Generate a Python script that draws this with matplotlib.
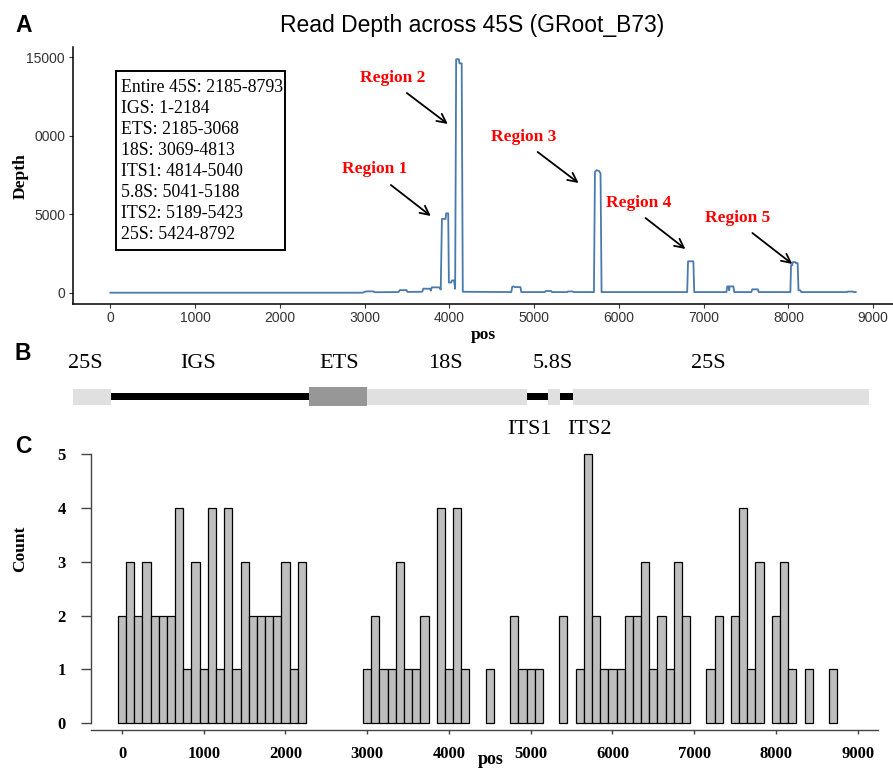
import matplotlib
matplotlib.use("Agg")
import matplotlib.pyplot as plt
from matplotlib.patches import Rectangle

# ---------------- data ----------------
# Panel A: read depth profile (pos, depth)
depth_pos = [1, 2980, 3000, 3030, 3100, 3120, 3400, 3415, 3495, 3505,
             3680, 3692, 3770, 3782, 3792, 3880, 3898, 3912, 3955, 3962,
             3986, 3994, 4020, 4030, 4055, 4068, 4080, 4112, 4118, 4145,
             4158, 4730, 4742, 4760, 4770, 4838, 4848, 5125, 5135, 5200,
             5210, 5390, 5400, 5455, 5465, 5705, 5717, 5735, 5765, 5783,
             5795, 6805, 6815, 6878, 6888, 7268, 7278, 7295, 7300, 7305,
             7350, 7360, 7562, 7572, 7638, 7648, 8022, 8030, 8045, 8052,
             8082, 8090, 8108, 8118, 8140, 8150, 8690, 8700, 8760, 8770,
             8793]
depth_val = [0, 0, 60, 85, 85, 30, 40, 165, 165, 50,
             60, 255, 255, 130, 340, 340, 200, 4700, 4700, 5060,
             5060, 650, 650, 780, 780, 250, 14880, 14880, 14620, 14620,
             60, 40, 380, 400, 360, 360, 40, 40, 110, 110,
             40, 40, 80, 80, 40, 40, 7700, 7810, 7760, 7600,
             40, 40, 2000, 2000, 40, 40, 400, 400, 150, 400,
             400, 40, 40, 215, 215, 40, 40, 1760, 1760, 1950,
             1950, 1880, 1880, 150, 150, 40, 40, 70, 70, 40,
             40]

info_lines = ["Entire 45S: 2185-8793", "IGS: 1-2184", "ETS: 2185-3068",
              "18S: 3069-4813", "ITS1: 4814-5040", "5.8S: 5041-5188",
              "ITS2: 5189-5423", "25S: 5424-8792"]

region_names = ["Region 1", "Region 2", "Region 3", "Region 4", "Region 5"]
region_text_pos = [3121, 3333, 4876, 6231, 7397]
region_text_depth = [7885, 13685, 9925, 5720, 4762]
arrow_tail_pos = [3310, 3498, 5041, 6313, 7574]
arrow_tail_depth = [6865, 12730, 8970, 4762, 3806]
arrow_head_pos = [3781, 3981, 5524, 6784, 8045]
arrow_head_depth = [4889, 10754, 6993, 2786, 1830]

depth_ticks = [0, 5000, 10000, 15000]
depth_ticklabels = ["0", "5000", "0000", "15000"]
pos_ticks = [0, 1000, 2000, 3000, 4000, 5000, 6000, 7000, 8000, 9000]

# Panel B: gene structure segments (in pos units as drawn)
seg_names = ["25S", "IGS", "ETS", "18S", "ITS1", "5.8S", "ITS2", "25S"]
seg_start = [-480, 5, 2348, 3033, 4913, 5168, 5306, 5456]
seg_end = [5, 2348, 3033, 4913, 5168, 5306, 5456, 8955]
seg_kind = ["rrna", "spacer", "ets", "rrna", "spacer", "rrna", "spacer", "rrna"]
label_names = ["25S", "IGS", "ETS", "18S", "5.8S", "25S", "ITS1", "ITS2"]
label_pos = [-298, 1034, 2704, 3948, 5225, 7057, 4950, 5658]
label_row = ["top", "top", "top", "top", "top", "top", "bottom", "bottom"]

# Panel C: histogram (bin centre, count)
bin_centers = [0, 100, 200, 300, 400, 500, 600, 700, 800, 900, 1000, 1100,
               1200, 1300, 1400, 1500, 1600, 1700, 1800, 1900, 2000, 2100,
               2200,
               3000, 3100, 3200, 3300, 3400, 3500, 3600, 3700, 3900, 4000,
               4100, 4200, 4500, 4800, 4900, 5000, 5100, 5400, 5600, 5700,
               5800, 5900, 6000, 6100, 6200, 6300, 6400, 6500, 6600, 6700,
               6800, 6900, 7200, 7300, 7500, 7600, 7700, 7800, 8000, 8100,
               8200, 8400, 8700]
bin_counts = [2, 3, 2, 3, 2, 2, 2, 4, 1, 3, 1, 4,
              1, 4, 1, 3, 2, 2, 2, 2, 3, 1,
              3,
              1, 2, 1, 1, 3, 1, 1, 2, 4, 1,
              4, 1, 1, 2, 1, 1, 1, 2, 1, 5,
              2, 1, 1, 1, 2, 2, 3, 1, 2, 1,
              3, 2, 1, 2, 2, 4, 1, 3, 2, 3,
              1, 1, 1]
bin_width = 100
count_ticks = [0, 1, 2, 3, 4, 5]

# ---------------- figure ----------------
W, H = 893, 769
fig = plt.figure(figsize=(W / 100, H / 100), dpi=100)
SERIF = "Liberation Serif"
SANS = "Liberation Sans"


def fx(x):
    return x / W


def fy(y):
    return 1 - y / H


# ---------- Panel A ----------
axA = fig.add_axes([fx(73), fy(304), (893 - 73) / W, (304 - 47) / H])
axA.plot(depth_pos, depth_val, color="#4a7aab", lw=1.3)
axA.set_xlim(-439.65, 9232.65)
axA.set_ylim(-720, 15662)
for s in ["top", "right"]:
    axA.spines[s].set_visible(False)
for s in ["left", "bottom"]:
    axA.spines[s].set_linewidth(1.1)
    axA.spines[s].set_color("black")
axA.set_xticks(pos_ticks)
axA.set_yticks(depth_ticks)
axA.set_yticklabels(depth_ticklabels)
axA.tick_params(axis="both", length=3.2, width=0.8, color="#333333",
                labelcolor="#333333", labelsize=10)
axA.tick_params(axis="x", pad=2.0)
axA.tick_params(axis="y", pad=2.5)
for lab in axA.get_xticklabels() + axA.get_yticklabels():
    lab.set_fontfamily(SANS)
axA.set_xlabel("pos", fontfamily=SERIF, fontweight="bold", fontsize=12.5,
               labelpad=1)
fig.text(fx(21), fy(176), "Depth", fontfamily=SERIF, fontweight="bold",
         fontsize=12.5, ha="center", va="center", rotation=90)

for name, tx, ty, ax0, ay0, hx, hy in zip(region_names, region_text_pos,
                                          region_text_depth, arrow_tail_pos,
                                          arrow_tail_depth, arrow_head_pos,
                                          arrow_head_depth):
    axA.text(tx, ty, name, color="red", fontfamily=SERIF, fontweight="bold",
             fontsize=12.5, ha="center", va="center")
    axA.annotate("", xy=(hx, hy), xytext=(ax0, ay0),
                 arrowprops=dict(arrowstyle="->", color="black", lw=1.3,
                                 mutation_scale=16, shrinkA=0, shrinkB=0))

# info box
fig.add_artist(Rectangle((fx(115.7), fy(250)), (285 - 115.7) / W,
                         (250 - 70.7) / H, transform=fig.transFigure,
                         facecolor="white", edgecolor="black", lw=1.4))
for i, line in enumerate(info_lines):
    fig.text(fx(121.5), fy(87.5 + 21 * i), line, fontfamily=SERIF,
             fontsize=12.8, ha="left", va="center")

fig.text(fx(472), fy(31.7), "Read Depth across 45S (GRoot_B73)",
         fontfamily=SANS, fontsize=16.5, ha="center", va="baseline")

# panel letters
for letter, yb in [("A", 31.7), ("B", 360), ("C", 453.3)]:
    fig.text(fx(15), fy(yb), letter, fontfamily=SANS, fontweight="bold",
             fontsize=16.5, ha="left", va="baseline")

# ---------- Panel B ----------
axB = fig.add_axes([fx(73), fy(450), (893 - 73) / W, 110 / H])
axB.set_xlim(-439.65, 9232.65)
axB.set_ylim(450, 340)
axB.axis("off")
kind_style = {"rrna": ("#e0e0e0", 389.0, 405.0),
              "ets": ("#979797", 386.7, 405.7),
              "spacer": ("black", 393.3, 400.0)}
for k, a, b in zip(seg_kind, seg_start, seg_end):
    col, y0, y1 = kind_style[k]
    axB.add_patch(Rectangle((a, y0), b - a, y1 - y0, facecolor=col,
                            edgecolor="none", zorder=2 if k != "spacer" else 1))
for name, p, row in zip(label_names, label_pos, label_row):
    yy = 364 if row == "top" else 429
    axB.text(p, yy, name, fontfamily=SERIF, fontsize=16, ha="center",
             va="center")

# ---------- Panel C ----------
axC = fig.add_axes([fx(90.7), fy(723.3), (877.7 - 90.7) / W,
                    (723.3 - 454) / H])
axC.bar(bin_centers, bin_counts, width=bin_width, color="#bebebe",
        edgecolor="black", linewidth=0.9, clip_on=False)
axC.set_xlim(-383, 9245)
axC.set_ylim(0, 5)
for s in ["top", "right"]:
    axC.spines[s].set_visible(False)
axC.spines["left"].set_bounds(0, 5)
axC.spines["left"].set_color("#444444")
axC.spines["left"].set_linewidth(1.0)
axC.spines["bottom"].set_position(("outward", 5))
axC.spines["bottom"].set_color("#444444")
axC.spines["bottom"].set_linewidth(1.0)
axC.set_xticks(pos_ticks)
axC.set_yticks(count_ticks)
axC.tick_params(axis="y", length=7, width=1.0, color="#444444", pad=11)
axC.tick_params(axis="x", length=3, width=1.0, color="#444444", pad=8)
for lab in axC.get_xticklabels() + axC.get_yticklabels():
    lab.set_fontfamily(SERIF)
    lab.set_fontweight("bold")
    lab.set_fontsize(12)
fig.text(fx(491), fy(760), "pos", fontfamily=SERIF, fontweight="bold",
         fontsize=13, ha="center", va="center")
fig.text(fx(20), fy(549), "Count", fontfamily=SERIF, fontweight="bold",
         fontsize=12.5, ha="center", va="center", rotation=90)

fig.savefig("out.png", dpi=100)
